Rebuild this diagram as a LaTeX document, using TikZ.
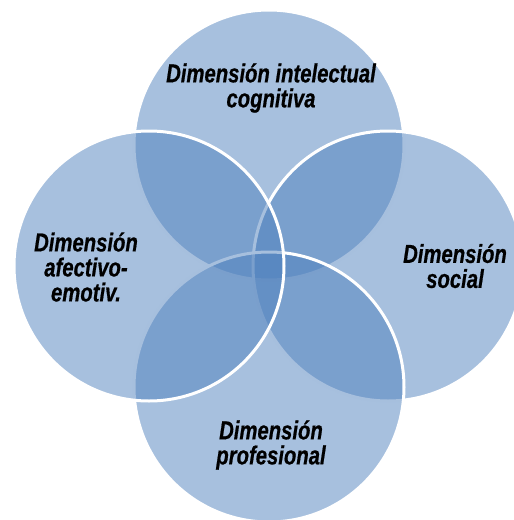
\documentclass[tikz,border=0pt]{standalone}
\usepackage{fontspec}
\newfontfamily\dimfont[FakeStretch=0.78,FakeBold=0.6]{Liberation Sans}
\usepackage{tikz}
\definecolor{vennblue}{RGB}{79,129,189}

\begin{document}
\begin{tikzpicture}[x=1pt,y=-1pt,
		dimcircle/.style={circle, minimum size=270pt, inner sep=0pt, fill=vennblue, fill opacity=0.5, draw=white, draw opacity=1, line width=3pt},
		dimlabel/.style={align=center, inner sep=0pt, font=\dimfont\bfseries\itshape\fontsize{26}{25}\selectfont}]
		\useasboundingbox (0,0) rectangle (514,520);
		\clip (0,0) rectangle (514,520);
		% circles: top, right, bottom, left
		\node[dimcircle] (c-top) at (269,145) {};
		\node[dimcircle] (c-right) at (388,266) {};
		\node[dimcircle] (c-bottom) at (269,387) {};
		\node[dimcircle] (c-left) at (149,266) {};
		% labels
		\node[dimlabel] (l-top) at (271,88) {Dimensión intelectual\\cognitiva};
		\node[dimlabel] (l-right) at (455,266) {Dimensión\\social};
		\node[dimlabel] (l-bottom) at (271,445) {Dimensión\\profesional};
		\node[dimlabel] (l-left) at (86,267) {Dimensión\\afectivo-\\emotiv.};
	\end{tikzpicture}
\end{document}
